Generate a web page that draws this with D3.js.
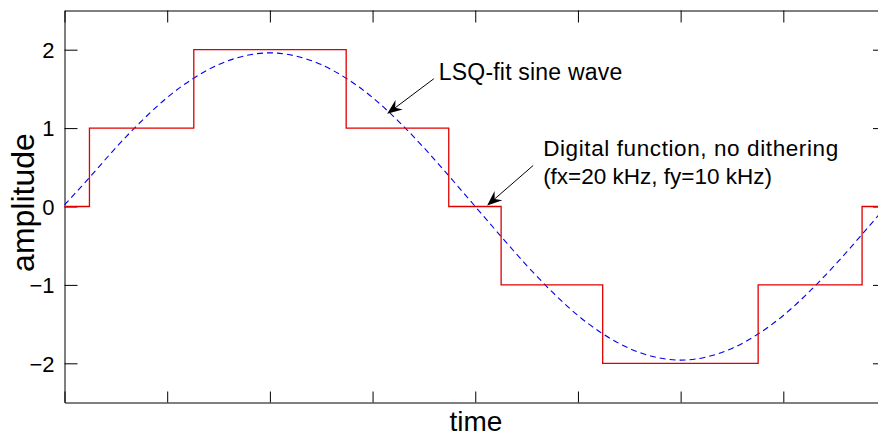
<!DOCTYPE html>
<html>
<head>
<meta charset="utf-8">
<script src="https://cdn.jsdelivr.net/npm/d3@7"></script>
<style>
  html, body { margin: 0; padding: 0; background: #fff; }
  svg { display: block; font-family: "Liberation Sans", Arial, sans-serif; }
</style>
</head>
<body>
<div id="chart"></div>
<script>
// time axis runs over 0..8 (one tick per unit, no labels)
const xTicks = [0, 1, 2, 3, 4, 5, 6, 7, 8];
const yTicks = [-2, -1, 0, 1, 2];

// digital (quantised) function : step edges in time units and the level held after each edge
const stepEdges = [0, 0.243, 1.259, 2.743, 3.742, 4.252, 5.241, 6.755, 7.767, 8];
const stepLevels = [0, 1, 2, 1, 0, -1, -2, -1, 0];

// LSQ-fit sine, read every 0.25 time unit
const sineTime = [
  0, 0.25, 0.5, 0.75, 1, 1.25, 1.5, 1.75, 2, 2.25, 2.5, 2.75, 3, 3.25, 3.5, 3.75,
  4, 4.25, 4.5, 4.75, 5, 5.25, 5.5, 5.75, 6, 6.25, 6.5, 6.75, 7, 7.25, 7.5, 7.75, 8
];
const sineValues = [
  0.02, 0.38, 0.75, 1.09, 1.39, 1.63, 1.81, 1.92, 1.96, 1.92, 1.81, 1.63, 1.39, 1.09, 0.75, 0.38,
  0.0, -0.38, -0.75, -1.09, -1.39, -1.63, -1.81, -1.92, -1.96, -1.92, -1.81, -1.63, -1.39, -1.09, -0.75, -0.38, 0.0
];

// annotations (data units) : text position + arrow from (x0,y0) to tip (x1,y1)
const notes = [
  { lines: ["LSQ-fit sine wave"], spacing: [0.2], tx: 3.645, ty: 1.616, size: 23, x0: 3.596, y0: 1.629, x1: 3.142, y1: 1.182 },
  { lines: ["Digital function, no dithering", "(fx=20 kHz, fy=10 kHz)"], spacing: [0.6, 0], tx: 4.661, ty: 0.644, size: 22.5,
    x0: 4.564, y0: 0.523, x1: 4.116, y1: 0.013 }
];

(function () {
  const width = 878, height = 438;
  const left = 64.5, right = 886, top = 10.5, bottom = 402.5;

  const svg = d3.select("#chart").append("svg")
    .attr("width", width).attr("height", height);

  const x = d3.scaleLinear().domain([0, 8]).range([left, right]);
  const y = d3.scaleLinear().domain([-2.5, 2.5]).range([bottom, top]);

  // --- axes (box with inward ticks) ---
  const styleAxis = (g) => {
    g.select(".domain").attr("stroke", "#000").attr("stroke-width", 1);
    g.selectAll(".tick line").attr("stroke", "#000").attr("stroke-width", 1);
  };

  svg.append("g")
    .attr("transform", `translate(0,${bottom})`)
    .call(d3.axisBottom(x).tickValues(xTicks).tickSizeInner(-11).tickSizeOuter(0).tickFormat(""))
    .call(styleAxis);

  svg.append("g")
    .attr("transform", `translate(0,${top})`)
    .call(d3.axisTop(x).tickValues(xTicks).tickSizeInner(-12).tickSizeOuter(0).tickFormat(""))
    .call(styleAxis);

  svg.append("g")
    .attr("transform", `translate(${right},0)`)
    .call(d3.axisRight(y).tickValues(yTicks).tickSizeInner(-13).tickSizeOuter(0).tickFormat(""))
    .call(styleAxis);

  const yAxis = svg.append("g")
    .attr("transform", `translate(${left},0)`)
    .call(d3.axisLeft(y).tickValues(yTicks).tickSizeInner(-13).tickSizeOuter(0).tickPadding(10)
      .tickFormat((d) => (d < 0 ? "\u2212" + Math.abs(d) : String(d))))
    .call(styleAxis);
  yAxis.selectAll("text")
    .attr("fill", "#000")
    .style("font-size", "22px")
    .attr("dy", "0.35em");

  // --- series ---
  const stepData = stepLevels.map((v, i) => ({ t: stepEdges[i], v }));
  stepData.push({ t: stepEdges[stepEdges.length - 1], v: stepLevels[stepLevels.length - 1] });

  const sineData = sineTime.map((t, i) => ({ t, v: sineValues[i] }));

  const plot = svg.append("g");

  plot.append("path")
    .datum(sineData)
    .attr("fill", "none")
    .attr("stroke", "#0000ee")
    .attr("stroke-width", 1.1)
    .attr("stroke-dasharray", "6,4")
    .attr("d", d3.line().x((d) => x(d.t)).y((d) => y(d.v)).curve(d3.curveNatural));

  plot.append("path")
    .datum(stepData)
    .attr("fill", "none")
    .attr("stroke", "#e00000")
    .attr("stroke-width", 1.3)
    .attr("d", d3.line().x((d) => x(d.t)).y((d) => y(d.v)).curve(d3.curveStepAfter));

  // --- annotations ---
  notes.forEach((n) => {
    const t = svg.append("text")
      .attr("x", x(n.tx))
      .attr("y", y(n.ty))
      .attr("fill", "#000")
      .style("font-size", `${n.size}px`);
    n.lines.forEach((line, i) => {
      t.append("tspan")
        .attr("x", x(n.tx))
        .attr("dy", i === 0 ? 0 : "1.25em")
        .style("letter-spacing", `${n.spacing[i]}px`)
        .text(line);
    });

    const px0 = x(n.x0), py0 = y(n.y0), px1 = x(n.x1), py1 = y(n.y1);
    const ang = Math.atan2(py1 - py0, px1 - px0);
    const headLen = 15, headW = 6, notch = 10;
    const bx = px1 - Math.cos(ang) * notch, by = py1 - Math.sin(ang) * notch;
    svg.append("line")
      .attr("x1", px0).attr("y1", py0).attr("x2", bx).attr("y2", by)
      .attr("stroke", "#000").attr("stroke-width", 1);
    const hx = px1 - Math.cos(ang) * headLen, hy = py1 - Math.sin(ang) * headLen;
    const nx = -Math.sin(ang), ny = Math.cos(ang);
    svg.append("path")
      .attr("d", `M${px1},${py1} L${hx + nx * headW},${hy + ny * headW} L${bx},${by} L${hx - nx * headW},${hy - ny * headW} Z`)
      .attr("fill", "#000");
  });

  // --- axis titles ---
  svg.append("text")
    .attr("transform", `translate(34,${(top + bottom) / 2 - 4}) rotate(-90)`)
    .attr("text-anchor", "middle")
    .attr("fill", "#000")
    .style("font-size", "32px")
    .text("amplitude");

  svg.append("text")
    .attr("x", 476)
    .attr("y", 431)
    .attr("text-anchor", "middle")
    .attr("fill", "#000")
    .style("font-size", "28px")
    .text("time");
})();
</script>
</body>
</html>
